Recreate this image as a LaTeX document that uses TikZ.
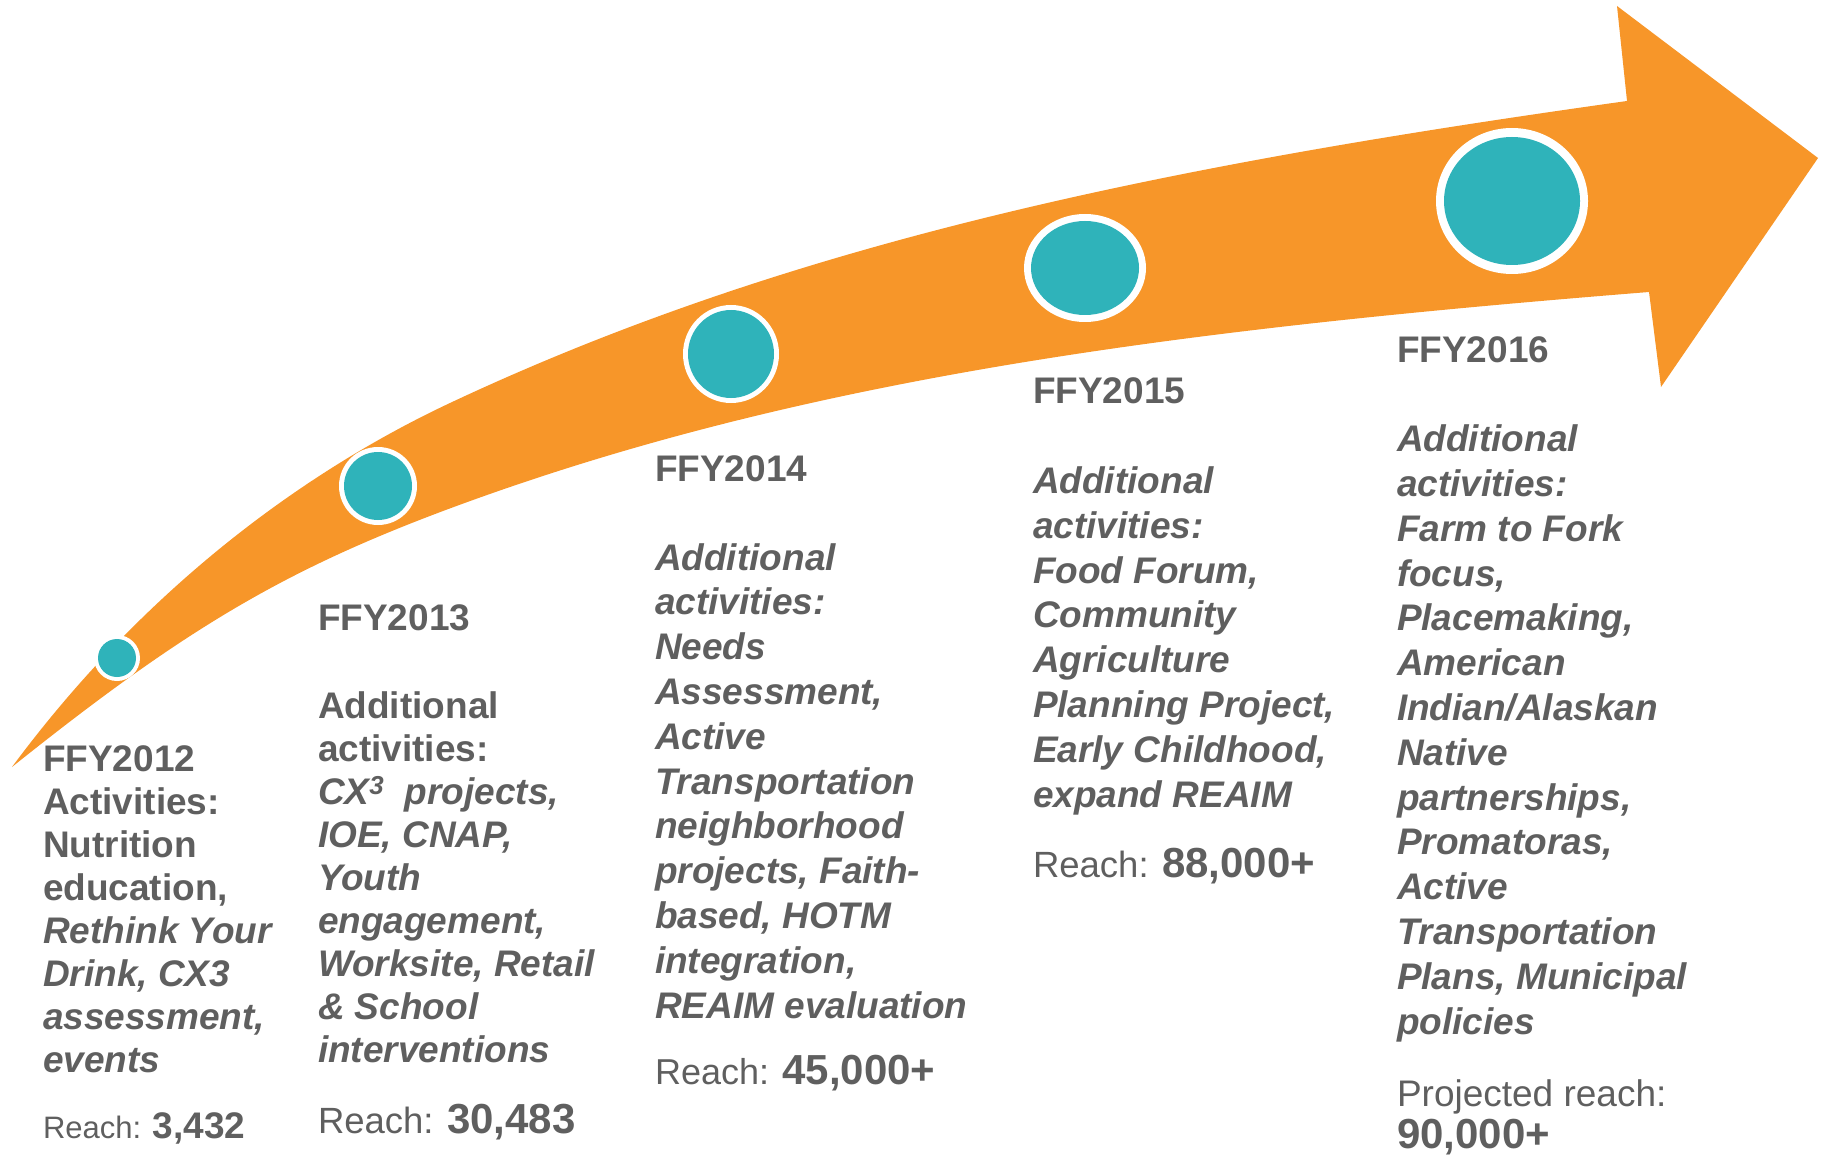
\documentclass[tikz,border=0pt]{standalone}
\usepackage{fontspec}
\setmainfont{Liberation Sans}
\definecolor{arroworange}{RGB}{247,150,41}
\definecolor{dotteal}{RGB}{47,179,186}
\definecolor{textgray}{RGB}{95,95,95}
\newcommand\bitx[1]{\textbf{\textit{#1}}}
\newcommand\fsz[2]{\fontsize{#1}{#2}\selectfont}
\begin{document}
\begin{tikzpicture}[x=1pt,y=-1pt,
  txt/.style={anchor=base west, inner sep=0pt, outer sep=0pt, text=textgray, align=left},
  hdr/.style={txt, font=\fsz{37}{44}\bfseries},
  bodyA/.style={txt, font=\fsz{37}{43}},
  bodyB/.style={txt, font=\fsz{37}{44.8}}]
\useasboundingbox (0,0) rectangle (1830,1155);
% arrow
\fill[arroworange] (12,767) .. controls (142,591.5) and (300,473.5) .. (450,403)
  .. controls (800,238.5) and (1177,164) .. (1627,101)
  -- (1617,6) -- (1818,158) -- (1661,387) -- (1649,292)
  .. controls (1199,328) and (823,374) .. (473,500)
  .. controls (293,564.8) and (192,623) .. (12,767) -- cycle;
% dots
\fill[white] (117,658) ellipse [x radius=23, y radius=23];
\fill[dotteal] (117,658) ellipse [x radius=19, y radius=19];
\fill[white] (378,486) ellipse [x radius=39, y radius=39];
\fill[dotteal] (378,486) ellipse [x radius=34, y radius=34];
\fill[white] (731,354) ellipse [x radius=48, y radius=49];
\fill[dotteal] (731,354) ellipse [x radius=43, y radius=44];
\fill[white] (1085,268) ellipse [x radius=61, y radius=54];
\fill[dotteal] (1085,268) ellipse [x radius=54, y radius=47];
\fill[white] (1512,201) ellipse [x radius=76, y radius=73];
\fill[dotteal] (1512,201) ellipse [x radius=68, y radius=64];
% FFY2012 (node base = last line baseline)
\node[bodyA] (b1) at (43,1072) {\textbf{FFY2012}\\ \textbf{Activities:}\\ \textbf{Nutrition}\\ \textbf{education,}\\ \bitx{Rethink Your}\\ \bitx{Drink, CX3}\\ \bitx{assessment,}\\ \bitx{events}};
\node[txt] (r1) at (43,1138) {{\fsz{31}{31}Reach: }{\fsz{37}{37}\bfseries 3,432}};
% FFY2013
\node[hdr] (h2) at (318,630) {FFY2013};
\node[bodyA] (b2) at (318,1062) {\textbf{Additional}\\ \textbf{activities:}\\ \bitx{CX\textsuperscript{3}~ projects,}\\ \bitx{IOE, CNAP,}\\ \bitx{Youth}\\ \bitx{engagement,}\\ \bitx{Worksite, Retail}\\ \bitx{\& School}\\ \bitx{interventions}};
\node[txt] (r2) at (318,1133) {{\fsz{36.5}{36.5}Reach: }{\fsz{42}{42}\bfseries 30,483}};
% FFY2014
\node[hdr] (h3) at (655,481) {FFY2014};
\node[bodyB] (b3) at (655,1018) {\bitx{Additional}\\ \bitx{activities:}\\ \bitx{Needs}\\ \bitx{Assessment,}\\ \bitx{Active}\\ \bitx{Transportation}\\ \bitx{neighborhood}\\ \bitx{projects, Faith-}\\ \bitx{based, HOTM}\\ \bitx{integration,}\\ \bitx{REAIM evaluation}};
\node[txt] (r3) at (655,1084) {{\fsz{36}{36}Reach: }{\fsz{42}{42}\bfseries 45,000+}};
% FFY2015
\node[hdr] (h4) at (1033,403) {FFY2015};
\node[bodyB] (b4) at (1033,807) {\bitx{Additional}\\ \bitx{activities:}\\ \bitx{Food Forum,}\\ \bitx{Community}\\ \bitx{Agriculture}\\ \bitx{Planning Project,}\\ \bitx{Early Childhood,}\\ \bitx{expand REAIM}};
\node[txt] (r4) at (1033,877) {{\fsz{36.5}{36.5}Reach: }{\fsz{42}{42}\bfseries 88,000+}};
% FFY2016
\node[hdr] (h5) at (1397,362) {FFY2016};
\node[bodyB] (b5) at (1397,1034) {\bitx{Additional}\\ \bitx{activities:}\\ \bitx{Farm to Fork}\\ \bitx{focus,}\\ \bitx{Placemaking,}\\ \bitx{American}\\ \bitx{Indian/Alaskan}\\ \bitx{Native}\\ \bitx{partnerships,}\\ \bitx{Promatoras,}\\ \bitx{Active}\\ \bitx{Transportation}\\ \bitx{Plans, Municipal}\\ \bitx{policies}};
\node[txt, font=\fsz{37}{37}] (r5) at (1397,1106) {Projected reach:};
\node[txt, font=\fsz{42}{42}\bfseries] (r5n) at (1397,1148) {90,000+};
\end{tikzpicture}
\end{document}
